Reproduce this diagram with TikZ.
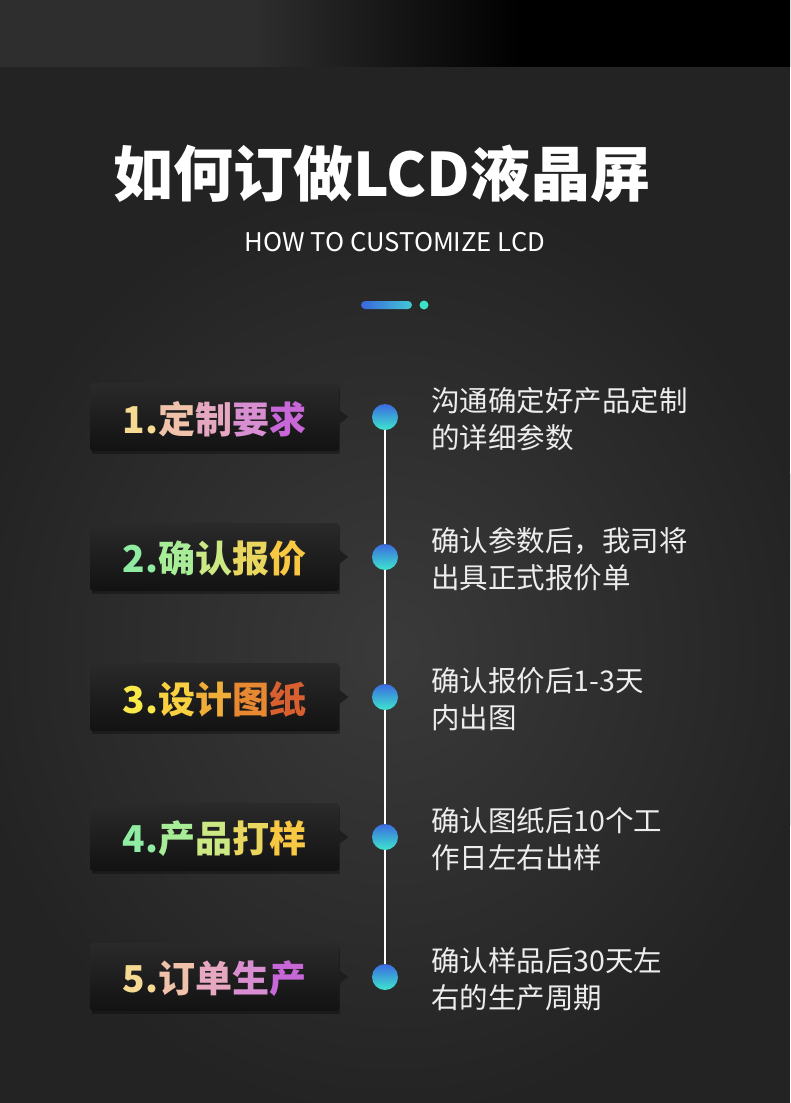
\documentclass[tikz,border=0pt]{standalone}
\usepackage{fontspec}
\newfontfamily\cjk{Noto Sans CJK SC}
\definecolor{bg}{HTML}{232323}
\definecolor{glowin}{HTML}{3A3A3A}
\definecolor{bandl}{HTML}{2E2E2E}
\definecolor{boxtop}{HTML}{2A2A2A}
\definecolor{boxbot}{HTML}{121212}
\definecolor{ptr}{HTML}{1E1E1E}
\definecolor{dotT}{HTML}{3B6BE0}
\definecolor{dotB}{HTML}{3FE6CF}
\definecolor{barL}{HTML}{3A66DC}
\definecolor{barR}{HTML}{42C8D6}
\definecolor{accdot}{HTML}{3EE0C8}
\definecolor{descc}{HTML}{EDEDED}
% label colours
\definecolor{a1}{HTML}{F6D992}\definecolor{a2}{HTML}{F0C2AA}\definecolor{a3}{HTML}{E6A8C0}\definecolor{a4}{HTML}{D88ED0}\definecolor{a5}{HTML}{C868D8}
\definecolor{g1}{HTML}{8FECA2}\definecolor{g2}{HTML}{A8EC98}\definecolor{g3}{HTML}{CCE884}\definecolor{g4}{HTML}{E8D65E}\definecolor{g5}{HTML}{F8C842}
\definecolor{o1}{HTML}{F8E848}\definecolor{o2}{HTML}{F8D040}\definecolor{o3}{HTML}{F0AE38}\definecolor{o4}{HTML}{E88830}\definecolor{o5}{HTML}{D86030}
\pgfdeclarehorizontalshading{band}{100bp}{color(0bp)=(bandl); color(41bp)=(bandl); color(58bp)=(black); color(100bp)=(black)}
\newcommand\mkitem[5]{%
  \fill[black, opacity=.3] (92,#2-30) rectangle (340,#2+37);
  \node[labelbox] (b#1) at (214.5,#2) {#3};
  \fill[ptr] (b#1.east) ++(0,-7) -- ++(9,7) -- ++(-9,7) -- cycle;
  \node[dotnode] (c#1) at (p#1) {};
  \node[desc] (ta#1) at (431,#2-6) {#4};
  \node[desc] (tb#1) at (431,#2+31) {#5};
}
\begin{document}
\begin{tikzpicture}[x=1pt,y=-1pt,
  labelbox/.style={rectangle, rounded corners=3pt, minimum width=249pt, minimum height=68pt,
    inner sep=0pt, top color=boxtop, bottom color=boxbot, text depth=0pt,
    font=\cjk\bfseries\fontsize{37}{37}\selectfont},
  dotnode/.style={circle, minimum size=26pt, inner sep=0pt, top color=dotT, bottom color=dotB},
  desc/.style={anchor=base west, inner sep=0pt, text=descc, font=\cjk\fontsize{28.5}{30}\selectfont},
  timeline/.style={draw=white, line width=2pt}]
\useasboundingbox (0,0) rectangle (790,1103);
\fill[bg] (0,0) rectangle (790,1103);
\begin{scope}
  \clip (0,66) rectangle (790,1103);
  \shade[inner color=glowin, outer color=bg] (392,650) ellipse (430pt and 470pt);
\end{scope}
\shade[shading=band] (0,0) rectangle (790,66);
% title
\node[anchor=base, inner sep=0pt, text=white, font=\cjk\bfseries\fontsize{60}{60}\selectfont] (title) at (382,196) {如何订做LCD液晶屏};
\node[anchor=base, inner sep=0pt, text=white, font=\cjk\fontsize{25.7}{26}\selectfont] (sub) at (395,251) {HOW TO CUSTOMIZE LCD};
\shade[left color=barL, right color=barR, rounded corners=4pt] (361,301) rectangle (412,309);
\fill[accdot] (424,305) circle (4.5pt);
% timeline
\coordinate (p1) at (385,417);
\coordinate (p2) at (385,557);
\coordinate (p3) at (385,697);
\coordinate (p4) at (385,837);
\coordinate (p5) at (385,977);
\draw[timeline] (p1) -- (p5);
\mkitem{1}{417}{\textcolor{a1}{1.}\textcolor{a2}{定}\textcolor{a3}{制}\textcolor{a4}{要}\textcolor{a5}{求}}{沟通确定好产品定制}{的详细参数}
\mkitem{2}{557}{\textcolor{g1}{2.}\textcolor{g2}{确}\textcolor{g3}{认}\textcolor{g4}{报}\textcolor{g5}{价}}{确认参数后，我司将}{出具正式报价单}
\mkitem{3}{697}{\textcolor{o1}{3.}\textcolor{o2}{设}\textcolor{o3}{计}\textcolor{o4}{图}\textcolor{o5}{纸}}{确认报价后1-3天}{内出图}
\mkitem{4}{837}{\textcolor{g1}{4.}\textcolor{g2}{产}\textcolor{g3}{品}\textcolor{g4}{打}\textcolor{g5}{样}}{确认图纸后10个工}{作日左右出样}
\mkitem{5}{977}{\textcolor{a1}{5.}\textcolor{a2}{订}\textcolor{a3}{单}\textcolor{a4}{生}\textcolor{a5}{产}}{确认样品后30天左}{右的生产周期}
\end{tikzpicture}
\end{document}
